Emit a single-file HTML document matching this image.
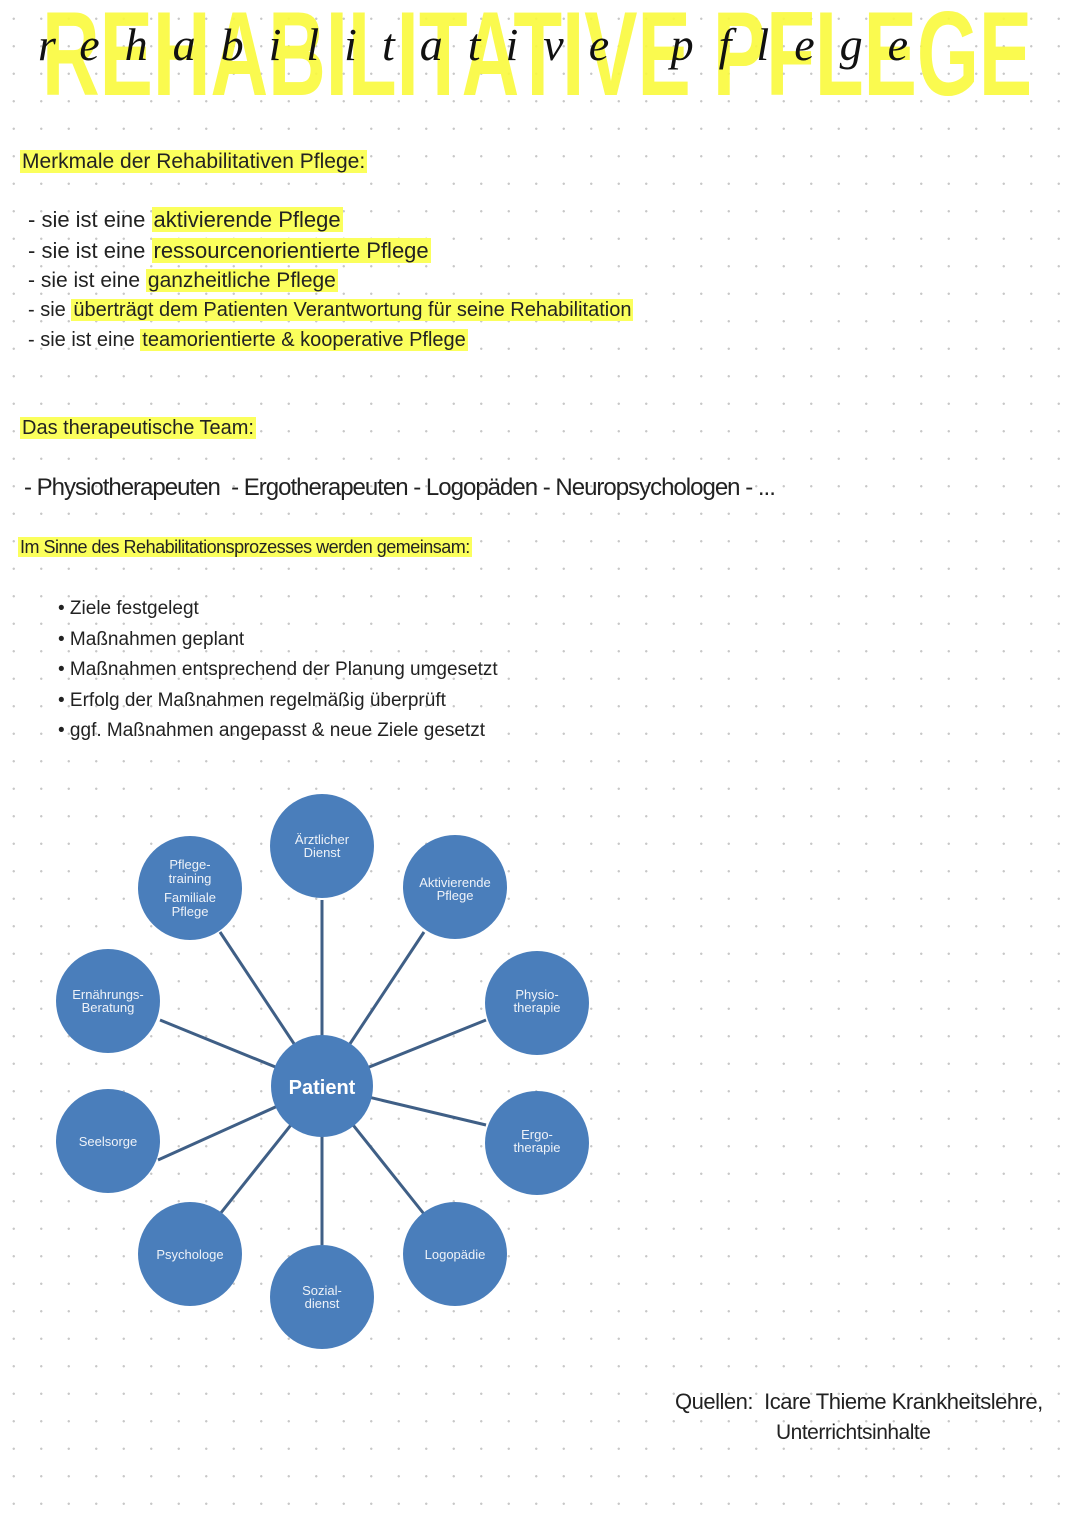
<!DOCTYPE html>
<html><head><meta charset="utf-8"><style>
html,body{margin:0;padding:0}
body{width:1080px;height:1525px;position:relative;background:#fff;overflow:hidden;
background-image:radial-gradient(circle,#c8c8c8 1px,transparent 1.4px);background-size:27.5px 27.5px;background-position:0px 5px;
font-family:"Liberation Sans",sans-serif;color:#222}
.t{position:absolute;white-space:nowrap;font-weight:300}
.hl{background:#fbff5c;padding:0 2px}
.title{position:absolute;left:42px;top:-6px;font-size:120px;line-height:120px;font-weight:bold;color:#fafa3c;white-space:nowrap;transform:scaleX(0.665);transform-origin:left top;opacity:.9}
.script{position:absolute;left:38px;top:18px;font-family:"Liberation Serif",serif;font-style:italic;font-size:46px;color:#111;letter-spacing:25px;white-space:nowrap;font-weight:normal}
</style></head><body>
<div class="title">REHABILITATIVE PFLEGE</div>
<div class="script">rehabilitative pflege</div>

<div class="t" style="left:20px;top:150px;font-size:21px"><span class="hl">Merkmale der Rehabilitativen Pflege:</span></div>
<div class="t" style="left:28px;top:207px;font-size:22px">- sie ist eine <span class="hl">aktivierende Pflege</span></div>
<div class="t" style="left:28px;top:238px;font-size:22px">- sie ist eine <span class="hl">ressourcenorientierte Pflege</span></div>
<div class="t" style="left:28px;top:269px;font-size:21px">- sie ist eine <span class="hl">ganzheitliche Pflege</span></div>
<div class="t" style="left:28px;top:299px;font-size:20px">- sie <span class="hl">überträgt dem Patienten Verantwortung für seine Rehabilitation</span></div>
<div class="t" style="left:28px;top:329px;font-size:20px">- sie ist eine <span class="hl">teamorientierte &amp; kooperative Pflege</span></div>

<div class="t" style="left:20px;top:417px;font-size:20px"><span class="hl">Das therapeutische Team:</span></div>
<div class="t" style="left:24px;top:474px;font-size:24px;letter-spacing:-1px">- Physiotherapeuten &nbsp;- Ergotherapeuten - Logopäden - Neuropsychologen - <b>...</b></div>
<div class="t" style="left:18px;top:537px;font-size:18px;letter-spacing:-0.5px"><span class="hl">Im Sinne des Rehabilitationsprozesses werden gemeinsam:</span></div>

<div class="t" style="left:58px;top:594px;font-size:19px;line-height:30.5px">• Ziele festgelegt<br>• Maßnahmen geplant<br>• Maßnahmen entsprechend der Planung umgesetzt<br>• Erfolg der Maßnahmen regelmäßig überprüft<br>• ggf. Maßnahmen angepasst &amp; neue Ziele gesetzt</div>

<svg style="position:absolute;left:0;top:0" width="1080" height="1525">
<g stroke="#3f5f86" stroke-width="3">
<line x1="322" y1="1086" x2="322" y2="900"/>
<line x1="322" y1="1086" x2="424" y2="932"/>
<line x1="322" y1="1086" x2="486" y2="1020"/>
<line x1="322" y1="1086" x2="486" y2="1125"/>
<line x1="322" y1="1086" x2="424" y2="1214"/>
<line x1="322" y1="1086" x2="322" y2="1245"/>
<line x1="322" y1="1086" x2="220" y2="1214"/>
<line x1="322" y1="1086" x2="158" y2="1160"/>
<line x1="322" y1="1086" x2="160" y2="1020"/>
<line x1="322" y1="1086" x2="220" y2="932"/>
</g>
<g fill="#4a7ebb">
<circle cx="322" cy="1086" r="51"/>
<circle cx="322" cy="846" r="52"/>
<circle cx="455" cy="887" r="52"/>
<circle cx="537" cy="1003" r="52"/>
<circle cx="537" cy="1143" r="52"/>
<circle cx="455" cy="1254" r="52"/>
<circle cx="322" cy="1297" r="52"/>
<circle cx="190" cy="1254" r="52"/>
<circle cx="108" cy="1141" r="52"/>
<circle cx="108" cy="1001" r="52"/>
<circle cx="190" cy="888" r="52"/>
</g>
<g fill="#eef2f8" font-family="Liberation Sans,sans-serif" font-size="13" text-anchor="middle">
<text x="322" y="1094" font-size="20" font-weight="bold" fill="#fff">Patient</text>
<text x="322" y="844">Ärztlicher</text><text x="322" y="857">Dienst</text>
<text x="455" y="887">Aktivierende</text><text x="455" y="900">Pflege</text>
<text x="537" y="999">Physio-</text><text x="537" y="1012">therapie</text>
<text x="537" y="1139">Ergo-</text><text x="537" y="1152">therapie</text>
<text x="455" y="1259">Logopädie</text>
<text x="322" y="1295">Sozial-</text><text x="322" y="1308">dienst</text>
<text x="190" y="1259">Psychologe</text>
<text x="108" y="1146">Seelsorge</text>
<text x="108" y="999">Ernährungs-</text><text x="108" y="1012">Beratung</text>
<text x="190" y="869">Pflege-</text><text x="190" y="883">training</text>
<text x="190" y="902">Familiale</text><text x="190" y="916">Pflege</text>
</g>
</svg>

<div class="t" style="left:675px;top:1389px;font-size:22px;letter-spacing:-0.5px">Quellen: &nbsp;Icare Thieme Krankheitslehre,</div>
<div class="t" style="left:776px;top:1421px;font-size:21px;letter-spacing:-0.5px">Unterrichtsinhalte</div>
</body></html>
